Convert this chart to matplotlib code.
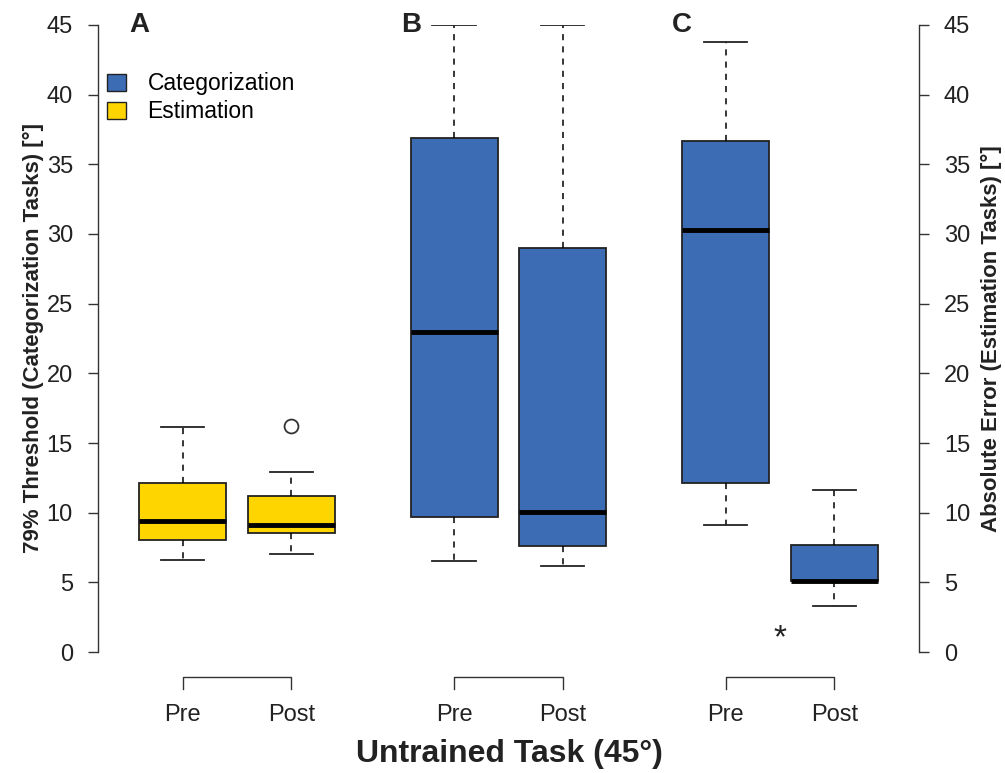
import matplotlib
matplotlib.use("Agg")
import matplotlib.pyplot as plt
import matplotlib.patches as mpatches

plt.rcParams.update({
    "font.family": ["Liberation Sans", "DejaVu Sans"],
    "font.size": 15,
})

# ── Data ────────────────────────────────────────────────────────────
positions = [1, 2, 3.5, 4.5, 6, 7]
box_labels = ["Pre", "Post", "Pre", "Post", "Pre", "Post"]
panel_letters = ["A", "B", "C"]
whislo = [6.6, 7.0, 6.55, 6.17, 9.1, 3.32]
q1 = [8.05, 8.55, 9.71, 7.63, 12.15, 5.08]
med = [9.43, 9.14, 23.0, 10.05, 30.3, 5.12]
q3 = [12.15, 11.22, 36.9, 29.0, 36.7, 7.70]
whishi = [16.15, 12.94, 45.0, 45.0, 43.8, 11.65]
fliers = [[], [16.25], [], [], [], []]
task_type = ["Estimation", "Estimation", "Categorization", "Categorization",
             "Categorization", "Categorization"]
star_pos = 6.5
star_val = 0.93

COLORS = {"Categorization": "#3c6cb4", "Estimation": "#ffd500"}
INK = "#222222"

fig = plt.figure(figsize=(10.05, 7.73), dpi=100)
ax = fig.add_axes([0.0975, 0.1565, 0.8169, 0.8112])
ax2 = ax.twinx()

stats = []
for i in range(len(positions)):
    stats.append({"med": med[i], "q1": q1[i], "q3": q3[i],
                  "whislo": whislo[i], "whishi": whishi[i],
                  "fliers": fliers[i]})

bp = ax.bxp(stats, positions=positions, widths=0.8, patch_artist=True,
            showfliers=True, manage_ticks=False,
            boxprops=dict(edgecolor=INK, linewidth=1.3),
            medianprops=dict(color="black", linewidth=3.5, solid_capstyle="butt"),
            whiskerprops=dict(color="black", linewidth=1.1, linestyle=(0, (4, 4))),
            capprops=dict(color=INK, linewidth=1.3),
            flierprops=dict(marker="o", markerfacecolor="white",
                            markeredgecolor="#333333", markersize=10,
                            markeredgewidth=1.3))
for patch, t in zip(bp["boxes"], task_type):
    patch.set_facecolor(COLORS[t])
for cap in bp["caps"]:
    x0, x1 = cap.get_xdata()
    c = (x0 + x1) / 2
    cap.set_xdata([c - 0.2, c + 0.2])

ax.set_xlim(0.22, 7.78)
ax.set_ylim(0, 45)
ax2.set_ylim(0, 45)

# left axis on ax, right axis on ax2
for s in ["top", "bottom", "right"]:
    ax.spines[s].set_visible(False)
for s in ["top", "bottom", "left"]:
    ax2.spines[s].set_visible(False)
ax.spines["left"].set_bounds(0, 45)
ax2.spines["right"].set_bounds(0, 45)
for sp in [ax.spines["left"], ax2.spines["right"]]:
    sp.set_linewidth(1.0)
    sp.set_color("#333333")

ax.set_xticks([])
ax.set_yticks(range(0, 46, 5))
ax2.set_yticks(range(0, 46, 5))
for a in (ax, ax2):
    a.tick_params(axis="y", direction="out", length=7, width=1.0,
                  color="#333333", labelsize=17, pad=11, labelcolor=INK)

ax.set_ylabel("79% Threshold (Categorization Tasks) [°]", fontsize=16,
              fontweight="bold", labelpad=2, color=INK)
ax2.set_ylabel("Absolute Error (Estimation Tasks) [°]", fontsize=16,
               fontweight="bold", labelpad=8, color=INK)

# panel letters at the left edge of each group
for letter, p in zip(panel_letters, positions[::2]):
    ax.text(p - 0.4, 45, letter, fontsize=20, fontweight="bold",
            ha="center", va="center", color=INK)

# significance star
ax.text(star_pos, star_val, "*", fontsize=24, ha="center", va="center",
        color=INK)

# brackets and Pre/Post labels under each pair
for a, b in zip(positions[::2], positions[1::2]):
    ax.plot([a, a, b, b], [-2.65, -1.8, -1.8, -2.65], color="#333333",
            linewidth=1.0, clip_on=False)
for p, lab in zip(positions, box_labels):
    ax.text(p, -4.5, lab, fontsize=17, ha="center", va="center",
            color=INK, clip_on=False)

fig.text(0.507, 0.024, "Untrained Task (45°)", fontsize=23, fontweight="bold",
         ha="center", va="center", color=INK)

handles = [mpatches.Patch(facecolor=COLORS[k], edgecolor=INK, label=k)
           for k in ["Categorization", "Estimation"]]
ax.legend(handles=handles, loc="upper left", bbox_to_anchor=(-0.008, 0.95),
          frameon=False, fontsize=16.5, handlelength=0.8, handleheight=0.8,
          handletextpad=0.95, labelspacing=0.22, borderaxespad=0.3)

fig.savefig("out.png", dpi=100)
